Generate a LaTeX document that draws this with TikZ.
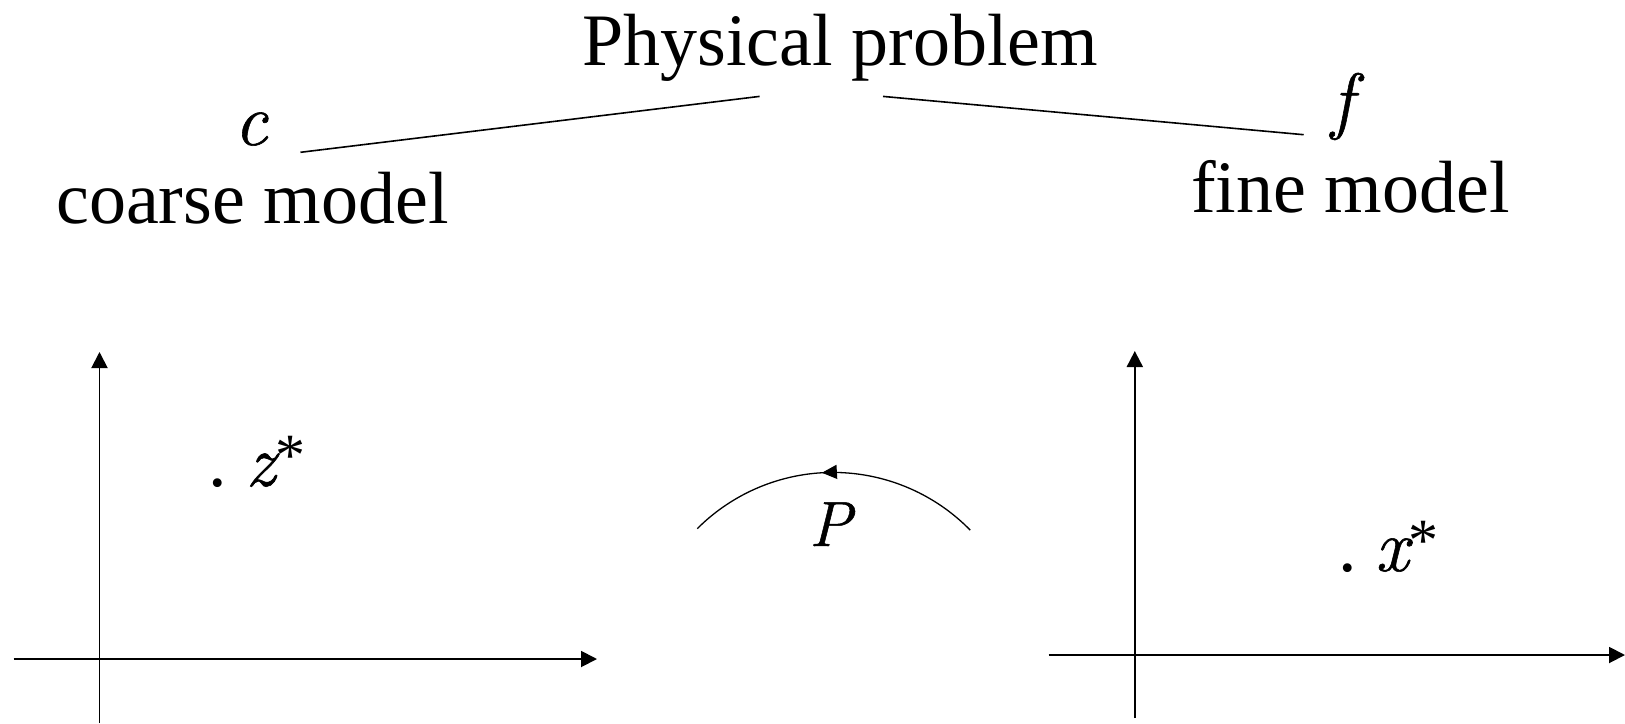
\documentclass[tikz,border=0pt]{standalone}
\usepackage{fontspec}
\setmainfont{Liberation Serif}
\newfontfamily\lmr{Latin Modern Roman}[ItalicFeatures={FakeBold=0.8}]
\newcommand{\vit}[1]{{\lmr\itshape #1}}
\usetikzlibrary{arrows.meta,decorations.markings}
\begin{document}
\begin{tikzpicture}[x=1pt,y=-1pt,
  lbl/.style={inner sep=0pt, anchor=base west, font=\fontsize{74}{80}\selectfont},
  axis/.style={line width=1.9pt, -{Triangle[length=16pt,width=16pt]}},
  conn/.style={line width=1.6pt}]
\useasboundingbox (0,0) rectangle (1625,723);
% texts
\node[lbl] (phys) at (582,65) {Physical problem};
\node[lbl] (c) at (234,145) {\vit{c}};
\node[lbl] (coarse) at (56,223) {coarse model};
\node[lbl] (f) at (1331,125) {\vit{f}};
\node[lbl] (fine) at (1191,212) {fine model};
% connectors
\coordinate (l1a) at (300.5,152.3);
\coordinate (l1b) at (759.6,96.4);
\coordinate (l2a) at (883,96.4);
\coordinate (l2b) at (1303.7,134.7);
\draw[conn] (l1a) -- (l1b);
\draw[conn] (l2a) -- (l2b);
% left axes
\coordinate (lyb) at (99.5,723);
\coordinate (lyt) at (99.5,352);
\coordinate (lxl) at (13.5,659);
\coordinate (lxr) at (597,659);
\draw[axis] (lyb) -- (lyt);
\draw[axis] (lxl) -- (lxr);
% right axes
\coordinate (ryb) at (1134.8,718);
\coordinate (ryt) at (1134.8,351);
\coordinate (rxl) at (1048.7,655);
\coordinate (rxr) at (1625,655);
\draw[axis] (ryb) -- (ryt);
\draw[axis] (rxl) -- (rxr);
% points
\node[lbl] (zs) at (208.6,486) {.\ \vit{z}\raisebox{11pt}{\fontsize{60}{60}\selectfont *}};
\node[lbl] (xs) at (1338,571) {.\ \vit{x}\raisebox{11pt}{\fontsize{60}{60}\selectfont *}};
% mapping arc
\coordinate (arcR) at (970.2,530.1);
\draw[line width=1.3pt, postaction={decorate},
  decoration={markings, mark=at position 0.54 with {\arrow{Triangle[length=15pt,width=14pt]}}}]
  (arcR) arc[start angle=44.4, end angle=135, radius=192pt];
\node[lbl, font=\fontsize{64}{70}\selectfont] (P) at (809,546) {\vit{P}};
\end{tikzpicture}
\end{document}
